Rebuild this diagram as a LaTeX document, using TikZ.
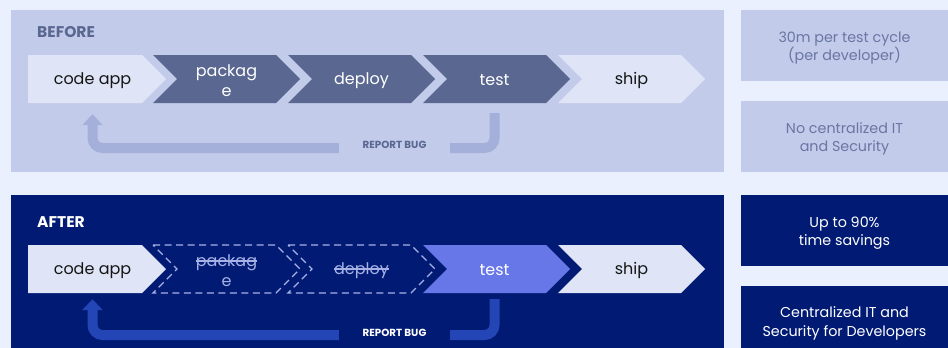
\documentclass[tikz,border=0pt]{standalone}
\usepackage{fontspec}
\setmainfont{Poppins}
\usetikzlibrary{arrows.meta,calc}

\definecolor{pagebg}{HTML}{EAF0FD}
\definecolor{beforebg}{HTML}{C3CBEA}
\definecolor{beforestep}{HTML}{5A6790}
\definecolor{lightstep}{HTML}{DFE5F6}
\definecolor{beforebug}{HTML}{A5B0DA}
\definecolor{beforeinfo}{HTML}{6A76A3}
\definecolor{afterbg}{HTML}{011B74}
\definecolor{afterbug}{HTML}{2445B5}
\definecolor{aftertest}{HTML}{6777E8}
\definecolor{skipped}{HTML}{A7B1E6}
\definecolor{steptxt}{HTML}{151515}

% text with a line through it
\newcommand\crossout[1]{\setbox0\hbox{#1}\rlap{\rule[0.55ex]{\wd0}{1.2pt}}\box0}

% chevron with an incoming notch: #1 style, #2 left x, #3 middle y
\newcommand\chevpath[3]{%
  \path[#1] (#2,#3-24) -- (#2+123,#3-24) -- (#2+147,#3) -- (#2+123,#3+24)
    -- (#2,#3+24) -- (#2+24,#3) -- cycle;}
% first chevron of a row, flat on the left
\newcommand\chevfirst[3]{%
  \path[#1] (28,#3-24) -- (#2+123,#3-24) -- (#2+147,#3) -- (#2+123,#3+24)
    -- (28,#3+24) -- cycle;}

\begin{document}
\begin{tikzpicture}[x=1pt,y=-1pt,
  steplabel/.style={minimum height=48pt,inner sep=0pt,align=center,yshift=-1.5pt,
    font=\fontsize{16}{20}\selectfont},
  paneltitle/.style={anchor=west,inner sep=0pt,font=\fontsize{15.5}{18}\bfseries},
  buglabel/.style={inner sep=0pt,minimum width=111pt,font=\fontsize{10.3}{12}\bfseries},
  infobox/.style={minimum width=207pt,minimum height=71pt,inner sep=0pt},
  infotext/.style={inner sep=0pt,align=center,yshift=-2.5pt,
    font=\fontsize{14.3}{18.5}\selectfont},
  bugline/.style={line width=10pt,rounded corners=10pt},
  bugtip/.style={-{Triangle[width=20pt,length=11pt]}},
  skipstep/.style={draw=skipped,line width=1.4pt,dash pattern=on 7pt off 4.5pt}]

\useasboundingbox (0,0) rectangle (948,348);
\fill[pagebg] (0,0) rectangle (948,348);

% ---------------- before ----------------
\fill[beforebg] (11,10) rectangle (724,172);
\node[paneltitle,text=beforestep] (b-title) at (37,32.5) {BEFORE};

\chevfirst{fill=lightstep}{19}{79}
\chevpath{fill=beforestep}{153}{79}
\chevpath{fill=beforestep}{288}{79}
\chevpath{fill=beforestep}{423}{79}
\chevpath{fill=lightstep}{558}{79}

\node[steplabel,text=steptxt] (b-code) at (92.5,79) {code app};
\node[steplabel,text=white] (b-pack) at (226.5,79) {packag\\e};
\node[steplabel,text=white] (b-deploy) at (361.5,79) {deploy};
\node[steplabel,text=white] (b-test) at (494.5,79) {test};
\node[steplabel,text=steptxt] (b-ship) at (631.5,79) {ship};

\node[buglabel,text=beforestep] (b-bug) at (394.5,144.5) {REPORT BUG};
\draw[bugline,beforebug] ($(b-test.south)+(0,8.5)$) |- (b-bug.east |- 0,148);
\draw[bugline,bugtip,beforebug] (b-bug.west |- 0,148) -| ($(b-code.south)+(0,9.5)$);

\node[infobox,fill=beforebg,
  label={[infotext,text=beforeinfo]center:{30m per test cycle\\(per developer)}}]
  (b-info1) at (844.5,45.5) {};
\node[infobox,fill=beforebg,
  label={[infotext,text=beforeinfo]center:{No centralized IT\\and Security}}]
  (b-info2) at (844.5,136.5) {};

% ---------------- after ----------------
\fill[afterbg] (11,195) rectangle (724,356);
\node[paneltitle,text=white] (a-title) at (37,222) {AFTER};

\chevfirst{fill=lightstep}{19}{269}
\chevpath{skipstep}{153}{269}
\chevpath{skipstep}{288}{269}
\chevpath{fill=aftertest}{423}{269}
\chevpath{fill=lightstep}{558}{269}

\node[steplabel,text=steptxt] (a-code) at (92.5,269) {code app};
\node[steplabel,text=skipped] (a-pack) at (226.5,269) {\crossout{packag}\\e};
\node[steplabel,text=skipped] (a-deploy) at (361.5,269) {\crossout{deploy}};
\node[steplabel,text=white] (a-test) at (494.5,269) {test};
\node[steplabel,text=steptxt] (a-ship) at (631.5,269) {ship};

\node[buglabel,text=white] (a-bug) at (394.5,332.5) {REPORT BUG};
\draw[bugline,afterbug] ($(a-test.south)+(0,4.5)$) |- (a-bug.east |- 0,335);
\draw[bugline,bugtip,afterbug] (a-bug.west |- 0,335) -| ($(a-code.south)+(0,4.5)$);

\node[infobox,fill=afterbg,
  label={[infotext,text=white]center:{Up to 90\%\\time savings}}]
  (a-info1) at (844.5,230.5) {};
\node[infobox,fill=afterbg,minimum height=70pt,
  label={[infotext,text=white]center:{Centralized IT and\\Security for Developers}}]
  (a-info2) at (844.5,321) {};
\end{tikzpicture}
\end{document}
